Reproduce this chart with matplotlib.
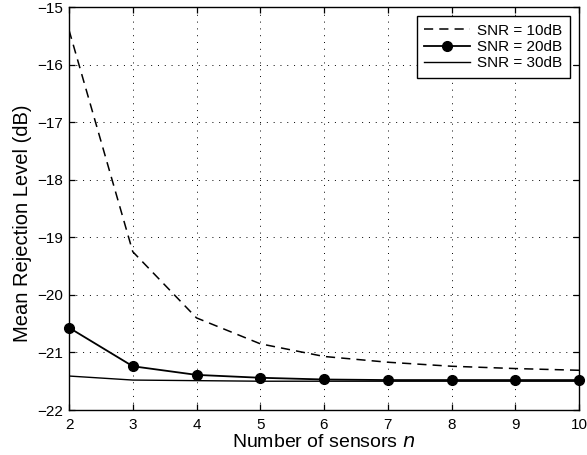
import matplotlib
matplotlib.use("Agg")
import matplotlib.pyplot as plt

plt.rcParams['font.family'] = ['Liberation Sans', 'DejaVu Sans']

n = [2, 3, 4, 5, 6, 7, 8, 9, 10]
snr10 = [-15.4, -19.25, -20.4, -20.85, -21.07, -21.17, -21.24, -21.28, -21.31]
snr20 = [-20.57, -21.24, -21.39, -21.44, -21.47, -21.48, -21.48, -21.48, -21.48]
snr30 = [-21.41, -21.48, -21.49, -21.50, -21.50, -21.50, -21.50, -21.50, -21.50]
labels = ['SNR = 10dB', 'SNR = 20dB', 'SNR = 30dB']

fig = plt.figure(figsize=(5.87, 4.55), dpi=100)
ax = fig.add_axes([69/587, 1-410/455, (579-69)/587, (410-7)/455])

ax.plot(n, snr10, color='black', linestyle=(0, (6, 4)), linewidth=1.1, label=labels[0])
ax.plot(n, snr20, color='black', linestyle='-', linewidth=1.3, marker='o', markersize=7,
        clip_on=False, label=labels[1])
ax.plot(n, snr30, color='black', linestyle='-', linewidth=1.0, label=labels[2])

ax.set_xlim(2, 10)
ax.set_ylim(-22, -15)
ax.set_xticks(range(2, 11))
ax.set_yticks(range(-22, -14))
ax.grid(True, color='black', linestyle=(0, (1, 6)), linewidth=0.7)
ax.tick_params(direction='in', top=True, right=True, labelsize=11, length=4, width=0.9)
ax.tick_params(axis='y', pad=4)
ax.tick_params(axis='x', pad=6)
for s in ax.spines.values():
    s.set_linewidth(1.0)
ax.set_xlabel('Number of sensors $\\it{n}$', fontsize=14, labelpad=1)
ax.set_ylabel('Mean Rejection Level (dB)', fontsize=14.5)
ax.yaxis.set_label_coords(-0.0725, 0.464)

leg = ax.legend(loc='upper right', fontsize=11, fancybox=False, edgecolor='black',
                framealpha=1, borderaxespad=0.6, handlelength=3.0, handletextpad=0.45,
                labelspacing=0.15, borderpad=0.5)
leg.get_frame().set_linewidth(1.0)

fig.savefig('out.png', dpi=100)
